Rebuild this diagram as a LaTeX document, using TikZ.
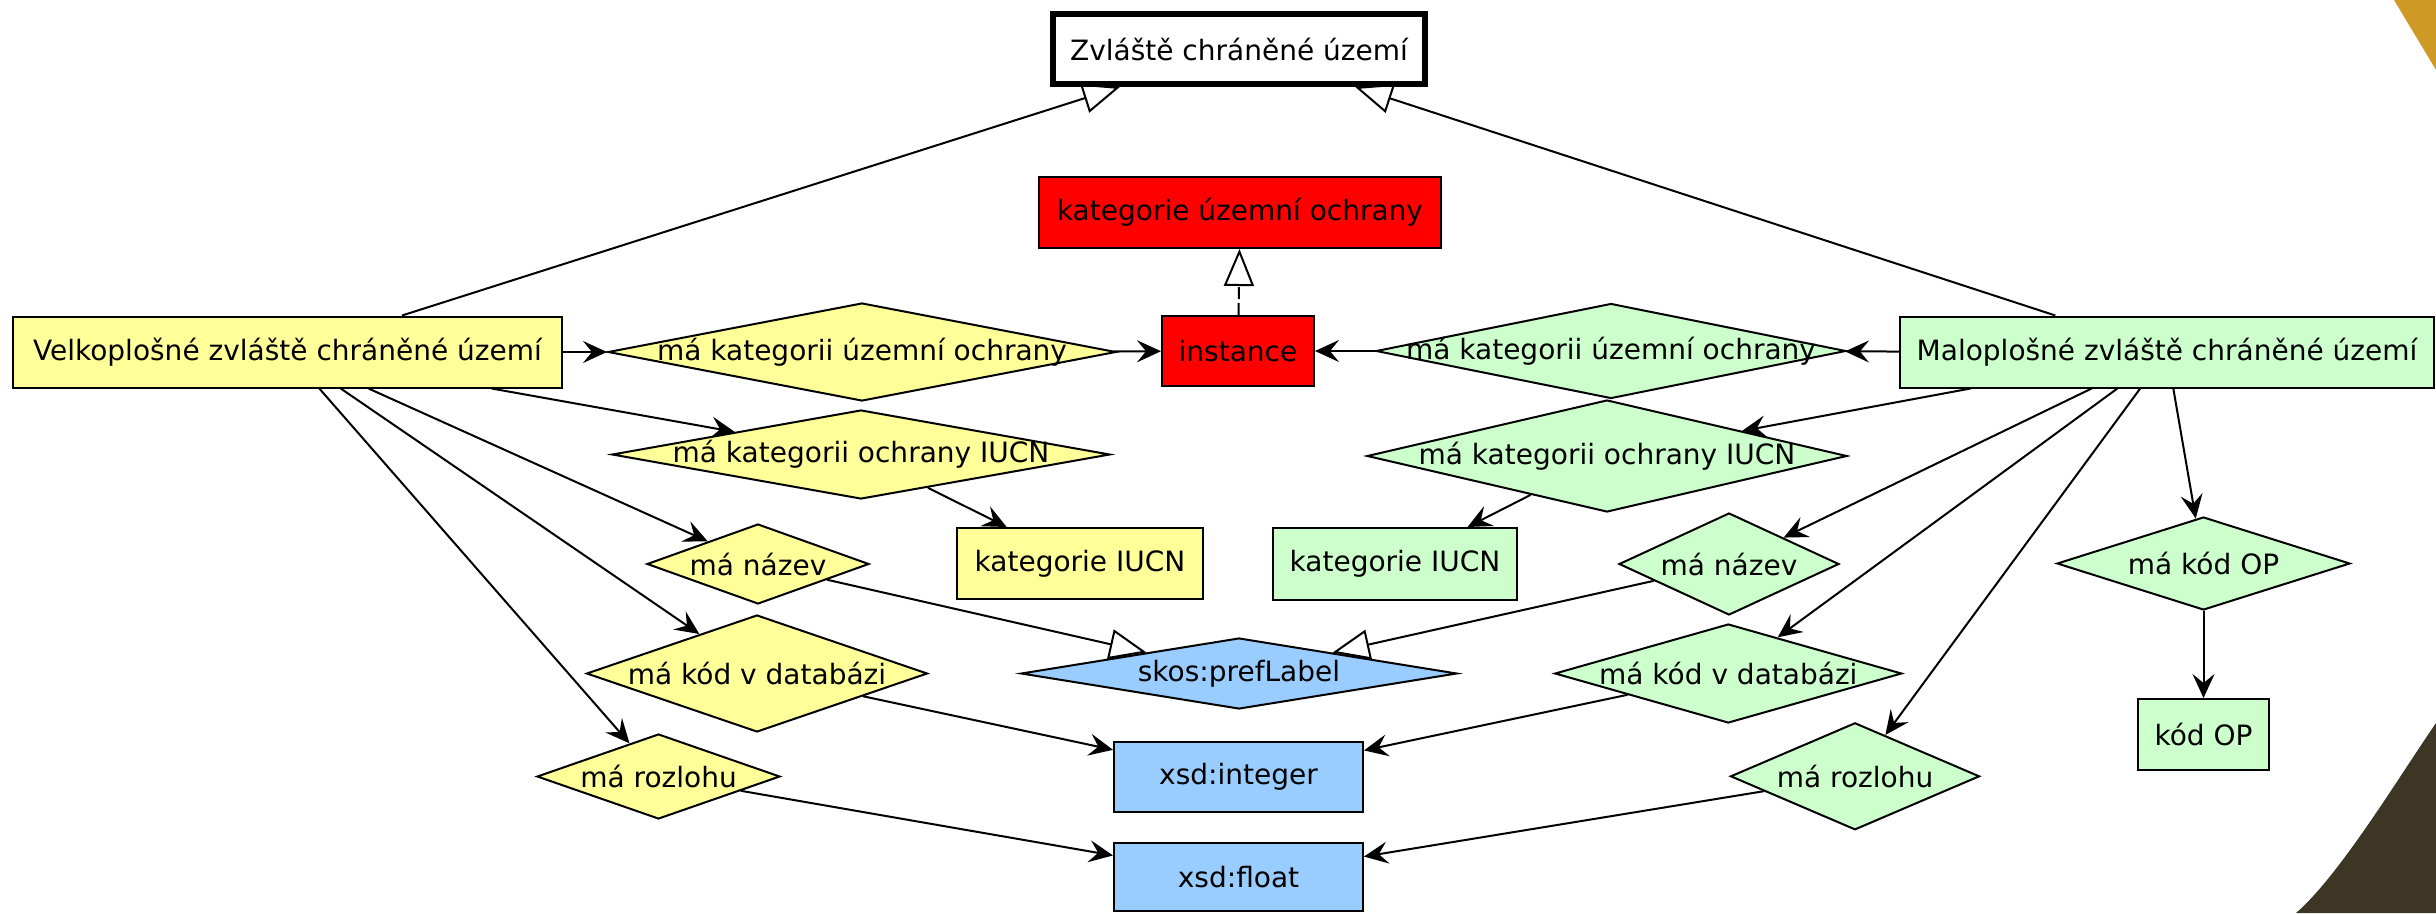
\documentclass[tikz,border=0pt]{standalone}
\usepackage{fontspec}
\setmainfont{DejaVu Sans}
\usetikzlibrary{arrows.meta,shapes.geometric}
\definecolor{ylw}{HTML}{FFFF99}
\definecolor{grn}{HTML}{CCFFCC}
\definecolor{blu}{HTML}{99CCFF}
\definecolor{goldc}{HTML}{CF9926}
\definecolor{brnc}{HTML}{3D3625}
\pgfdeclarelayer{background}
\pgfsetlayers{background,main}
\begin{document}
\begin{tikzpicture}[x=1pt,y=-1pt,font=\fontsize{28}{34}\selectfont,
  rbox/.style={rectangle, draw=black, line width=2pt, inner sep=0pt},
  dbox/.style={diamond, draw=black, line width=2pt, inner sep=0pt},
  sz/.style 2 args={minimum width=#1pt, minimum height=#2pt},
  arr/.style={line width=2pt, -{Stealth[length=24pt,width=22pt,inset=9pt]}},
  gen/.style={line width=2pt, -{Triangle[open,length=37pt,width=30pt]}},
]
\useasboundingbox (0,0) rectangle (2436,913);
\fill[goldc] (2394,0) -- (2436,70) -- (2436,0) -- cycle;
\fill[brnc] (2436,723) .. controls (2400,775) and (2340,875) .. (2296,913) -- (2436,913) -- cycle;

% rectangles
\node[rbox, fill=white, line width=6pt, sz={372}{70}] (zvl) at (1239,49) {Zvláště chráněné území};
\node[rbox, fill=red, sz={402}{71}] (kuo) at (1240,212.5) {kategorie územní ochrany};
\node[rbox, fill=red, sz={152}{70}] (inst) at (1238,351) {instance};
\node[rbox, fill=ylw, sz={549}{71}] (velko) at (287.5,352) {Velkoplošné zvláště chráněné území};
\node[rbox, fill=grn, sz={534}{71}] (malo) at (2167,352) {Maloplošné zvláště chráněné území};
\node[rbox, fill=ylw, sz={246}{71}] (ykat) at (1080,563.5) {kategorie IUCN};
\node[rbox, fill=grn, sz={244}{72}] (gkat) at (1395,564) {kategorie IUCN};
\node[rbox, fill=grn, sz={131}{71}] (kodop) at (2203.5,734.5) {kód OP};
\node[rbox, fill=blu, sz={249}{70}] (xint) at (1238.5,776.7) {xsd:integer};
\node[rbox, fill=blu, sz={249}{68}] (xfloat) at (1238.5,877) {xsd:float};

% diamonds
\node[dbox, fill=ylw, sz={508}{98}] (ykuo) at (862,352) {\makebox[0pt]{má kategorii územní ochrany}};
\node[dbox, fill=grn, sz={470}{95}] (gkuo) at (1611,351) {\makebox[0pt]{má kategorii územní ochrany}};
\node[dbox, fill=ylw, sz={498}{89}] (yiucn) at (861,454.5) {\makebox[0pt]{má kategorii ochrany IUCN}};
\node[dbox, fill=grn, sz={480}{112}] (giucn) at (1607,456) {\makebox[0pt]{má kategorii ochrany IUCN}};
\node[dbox, fill=ylw, sz={222}{80}] (ynaz) at (758,564) {\makebox[0pt]{má název}};
\node[dbox, fill=grn, sz={220}{102}] (gnaz) at (1729,564) {\makebox[0pt]{má název}};
\node[dbox, fill=grn, sz={293}{93}] (kodopd) at (2203.5,563.5) {\makebox[0pt]{má kód OP}};
\node[dbox, fill=blu, sz={436}{71}] (skos) at (1239,673.5) {\makebox[0pt]{skos:prefLabel}};
\node[dbox, fill=ylw, sz={341}{117}] (ydb) at (757,673.5) {\makebox[0pt]{má kód v databázi}};
\node[dbox, fill=grn, sz={347}{99}] (gdb) at (1728.3,673.5) {\makebox[0pt]{má kód v databázi}};
\node[dbox, fill=ylw, sz={243}{85}] (yroz) at (658.5,776.5) {\makebox[0pt]{má rozlohu}};
\node[dbox, fill=grn, sz={249}{107}] (groz) at (1855,776.3) {\makebox[0pt]{má rozlohu}};

\begin{pgfonlayer}{background}
  % generalisations
  \draw[gen] (velko) -- (zvl);
  \draw[gen] (malo) -- (zvl);
  \draw[gen, dash pattern=on 12pt off 4pt] (inst) -- (kuo);
  \draw[gen] (ynaz) -- (skos);
  \draw[gen] (gnaz) -- (skos);
  % properties
  \draw[arr] (velko) -- (ykuo);
  \draw[arr] (ykuo) -- (inst);
  \draw[arr] (malo) -- (gkuo);
  \draw[arr] (gkuo) -- (inst);
  \draw[arr] (velko) -- (yiucn);
  \draw[arr] (yiucn) -- (ykat);
  \draw[arr] (malo) -- (giucn);
  \draw[arr] (giucn) -- (gkat);
  \draw[arr] (velko) -- (ynaz);
  \draw[arr] (malo) -- (gnaz);
  \draw[arr] (velko) -- (ydb);
  \draw[arr] (malo) -- (gdb);
  \draw[arr] (velko) -- (yroz);
  \draw[arr] (malo) -- (groz);
  \draw[arr] (malo) -- (kodopd);
  \draw[arr] (kodopd) -- (kodop);
  \draw[arr] (ydb) -- (xint);
  \draw[arr] (gdb) -- (xint);
  \draw[arr] (yroz) -- (xfloat);
  \draw[arr] (groz) -- (xfloat);
\end{pgfonlayer}
\end{tikzpicture}
\end{document}
